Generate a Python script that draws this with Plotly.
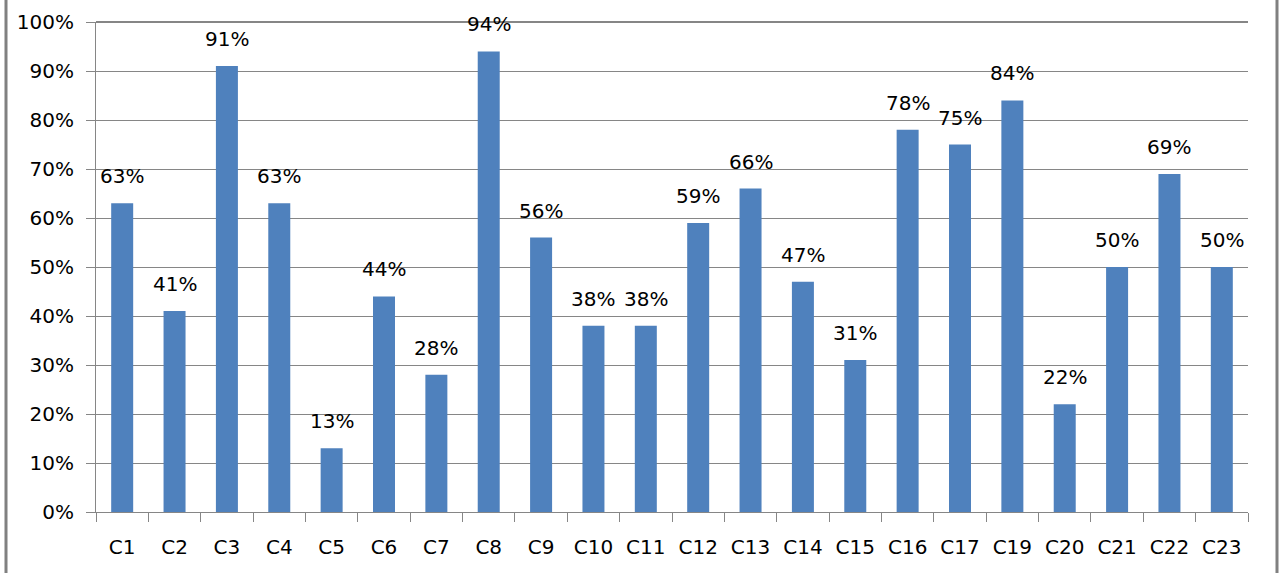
import plotly.graph_objects as go

categories = ["C1", "C2", "C3", "C4", "C5", "C6", "C7", "C8", "C9", "C10", "C11",
              "C12", "C13", "C14", "C15", "C16", "C17", "C19", "C20", "C21", "C22", "C23"]
values = [63, 41, 91, 63, 13, 44, 28, 94, 56, 38, 38, 59, 66, 47, 31, 78, 75, 84, 22, 50, 69, 50]
y_ticks = [0, 10, 20, 30, 40, 50, 60, 70, 80, 90, 100]
y_tick_labels = [f"{v}%" for v in y_ticks]

FONT = "DejaVu Sans"
FS = 20
W, H = 1285, 573
L, R, T, B = 96, 37, 22, 61
plot_w = W - L - R

fig = go.Figure()
fig.add_trace(go.Bar(
    x=categories, y=values,
    marker=dict(color="#4F81BD", line=dict(width=0)),
    width=0.42,
    hoverinfo="x+y",
))

for c, v in zip(categories, values):
    fig.add_annotation(x=c, y=v, text=f"{v}%", showarrow=False,
                       yshift=27, font=dict(family=FONT, size=FS, color="#000000"))

fig.update_layout(
    width=W, height=H,
    margin=dict(l=L, r=R, t=T, b=B, autoexpand=False),
    paper_bgcolor="white", plot_bgcolor="white",
    showlegend=False,
    font=dict(family=FONT, size=FS, color="#000000"),
    xaxis=dict(
        type="category", tickson="boundaries", ticks="outside", ticklen=9,
        tickcolor="#868686", showgrid=False, showline=True, linecolor="#868686",
        linewidth=1, tickfont=dict(family=FONT, size=FS), ticklabelstandoff=17,
        automargin=False,
    ),
    yaxis=dict(
        range=[0, 100], tickvals=y_ticks, ticktext=y_tick_labels,
        ticks="outside", ticklen=9, tickcolor="#868686",
        showgrid=True, gridcolor="#868686", gridwidth=1,
        showline=True, linecolor="#868686", linewidth=1,
        zeroline=False, tickfont=dict(family=FONT, size=FS),
        ticklabelstandoff=8, automargin=False,
    ),
    shapes=[
        dict(type="line", xref="paper", yref="paper",
             x0=(6 - L) / plot_w, x1=(6 - L) / plot_w, y0=-0.3, y1=1.2,
             line=dict(color="#808080", width=3)),
        dict(type="line", xref="paper", yref="paper",
             x0=(1277 - L) / plot_w, x1=(1277 - L) / plot_w, y0=-0.3, y1=1.2,
             line=dict(color="#808080", width=3)),
        dict(type="line", xref="paper", yref="paper",
             x0=0, x1=1, y0=1, y1=1,
             line=dict(color="#868686", width=2)),
    ],
)

fig.write_html(
    "out.html",
    config={"displayModeBar": False},
    post_script="document.body.style.margin='0';document.body.style.overflow='hidden';",
)
